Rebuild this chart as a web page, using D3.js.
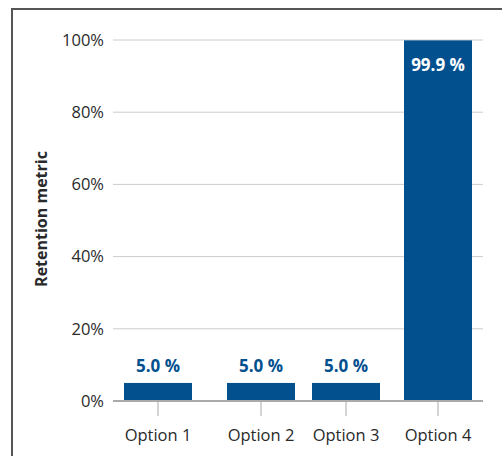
<!DOCTYPE html>
<html>
<head>
<meta charset="utf-8">
<script src="https://cdn.jsdelivr.net/npm/d3@7"></script>
<style>
  body { margin: 0; background: #fff; }
  svg { font-family: "Open Sans", "Noto Sans", sans-serif; }
</style>
</head>
<body>
<div id="chart"></div>
<script>
const categories = ['Option 1', 'Option 2', 'Option 3', 'Option 4'];
const values = [5.0, 5.0, 5.0, 99.9];
const yTicks = [0, 20, 40, 60, 80, 100];
const yTitle = 'Retention metric';

const width = 502, height = 456;
const barColor = '#03508f';

const svg = d3.select('#chart').append('svg')
  .attr('width', width)
  .attr('height', height);

// frame (top + left edges only visible)
svg.append('path')
  .attr('d', `M12,${height} V9 H${width}`)
  .attr('fill', 'none')
  .attr('stroke', '#555')
  .attr('stroke-width', 2);

// category centres are not evenly spaced in the original
const x = d3.scaleOrdinal()
  .domain(categories)
  .range([158, 261, 346, 438]);
const barWidth = 68;

const y = d3.scaleLinear()
  .domain([0, 100])
  .range([401, 40]);

// gridlines
svg.append('g')
  .selectAll('line')
  .data(yTicks.filter(d => d > 0))
  .enter()
  .append('line')
  .attr('x1', 113).attr('x2', 483)
  .attr('y1', d => y(d)).attr('y2', d => y(d))
  .attr('stroke', '#ccc')
  .attr('stroke-width', 1);

// y tick labels
svg.append('g')
  .selectAll('text')
  .data(yTicks)
  .enter()
  .append('text')
  .attr('x', 104)
  .attr('y', d => y(d))
  .attr('dy', '0.35em')
  .attr('text-anchor', 'end')
  .attr('font-size', 16.5)
  .attr('fill', '#2a2a2a')
  .text(d => d + '%');

// bars
svg.append('g')
  .selectAll('rect')
  .data(values)
  .enter()
  .append('rect')
  .attr('x', (d, i) => x(categories[i]) - barWidth / 2)
  .attr('y', d => y(d))
  .attr('width', barWidth)
  .attr('height', d => y(0) - y(d))
  .attr('fill', barColor);

// baseline
svg.append('line')
  .attr('x1', 113).attr('x2', 483)
  .attr('y1', y(0)).attr('y2', y(0))
  .attr('stroke', '#aaa')
  .attr('stroke-width', 2);

// x ticks + labels
const xAxis = svg.append('g');
xAxis.selectAll('line')
  .data(categories)
  .enter()
  .append('line')
  .attr('x1', d => x(d)).attr('x2', d => x(d))
  .attr('y1', y(0)).attr('y2', y(0) + 15)
  .attr('stroke', '#aaa')
  .attr('stroke-width', 1);
xAxis.selectAll('text')
  .data(categories)
  .enter()
  .append('text')
  .attr('x', d => x(d))
  .attr('y', 441)
  .attr('text-anchor', 'middle')
  .attr('font-size', 16.5)
  .attr('fill', '#2a2a2a')
  .text(d => d);

// value labels: above short bars, inside tall bars
svg.append('g')
  .selectAll('text')
  .data(values)
  .enter()
  .append('text')
  .attr('x', (d, i) => x(categories[i]))
  .attr('y', d => d > 50 ? y(d) + 31 : y(d) - 11)
  .attr('text-anchor', 'middle')
  .attr('font-size', 17)
  .attr('font-weight', 'bold')
  .attr('fill', d => d > 50 ? '#fff' : barColor)
  .text(d => d.toFixed(1) + ' %');

// y title
svg.append('text')
  .attr('transform', 'translate(47,219) rotate(-90)')
  .attr('text-anchor', 'middle')
  .attr('font-size', 16)
  .attr('font-weight', 'bold')
  .attr('fill', '#2a2a2a')
  .text(yTitle);
</script>
</body>
</html>
